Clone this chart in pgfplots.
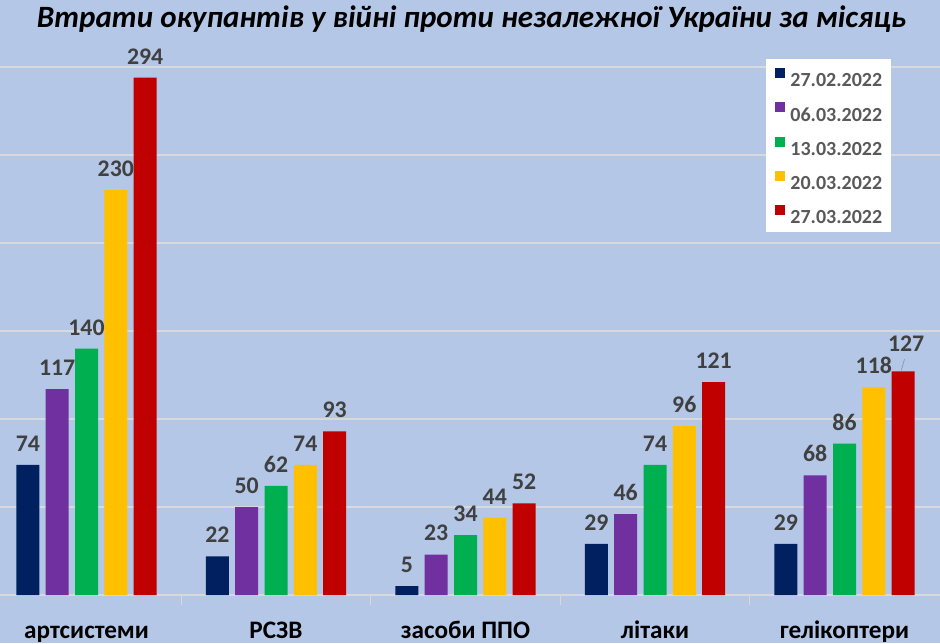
\documentclass[border=0pt]{standalone}
\usepackage{pgfplots}
\pgfplotsset{compat=1.18}
\usepackage{fontspec}
\usepackage{graphicx}
\setmainfont{Carlito}

\definecolor{bg}{HTML}{B4C7E7}
\definecolor{gridc}{HTML}{D9D9D9}
\definecolor{lblc}{HTML}{404040}
\definecolor{legc}{HTML}{595959}
\definecolor{cA}{HTML}{002060}
\definecolor{cB}{HTML}{7030A0}
\definecolor{cC}{HTML}{00B050}
\definecolor{cD}{HTML}{FFC000}
\definecolor{cE}{HTML}{C00000}

% losses by category: 0 artillery, 1 MLRS, 2 air defence, 3 aircraft, 4 helicopters
\pgfplotstableread{
x a b c d e
0 74 117 140 230 294
1 22 50 62 74 93
2 5 23 34 44 52
3 29 46 74 96 121
4 29 68 86 118 127
}\losses

\begin{document}
\begin{tikzpicture}
\fill[bg] (0,0) rectangle (470pt,321.5pt);
\begin{axis}[
  at={(0pt,24pt)}, anchor=south west,
  scale only axis, width=470pt, height=297pt,
  xmin=-0.4565, xmax=4.504, ymin=0, ymax=337.5,
  ybar=3.15pt, bar width=11.5pt,
  /pgf/number format/assume math mode=true,
  axis line style={draw=none},
  ytick={0,50,...,300}, yticklabels={}, ytick style={draw=none},
  ymajorgrids, major grid style={color=gridc, line width=1pt},
  xtick={0,...,4},
  xticklabels={артсистеми, РСЗВ, засоби ППО, літаки, гелікоптери},
  major x tick style={draw=none},
  minor xtick={0.5,1.5,2.5,3.5},
  minor x tick style={color=gridc, line width=0.6pt},
  minor tick length=5pt, tick align=outside, xtick pos=bottom,
  xticklabel style={font=\fontsize{12.6}{12.6}\selectfont\bfseries, text=black, anchor=base, yshift=-17.3pt},
  nodes near coords,
  every node near coord/.append style={font=\fontsize{11.9}{12}\selectfont\bfseries, text=lblc, inner sep=0pt, anchor=south, yshift=6.5pt},
  legend style={at={(0.8149,0.9024)}, anchor=north west, fill=white, draw=none,
    inner xsep=4.5pt, inner ysep=4.5pt, row sep=7.75pt, column sep=2.5pt,
    font=\fontsize{10}{10}\selectfont\bfseries, text=legc,
    nodes={text height=7pt, text depth=0pt, inner sep=0pt}},
  legend cell align=left,
  legend image code/.code={\fill[#1, draw=none] (0pt,0.8pt) rectangle (5pt,5.8pt);},
]
\addplot[fill=cA, draw=none] table[x=x, y=a] {\losses};
\addplot[fill=cB, draw=none] table[x=x, y=b] {\losses};
\addplot[fill=cC, draw=none] table[x=x, y=c] {\losses};
\addplot[fill=cD, draw=none] table[x=x, y=d] {\losses};
\addplot[fill=cE, draw=none,
  visualization depends on={\coordindex \as \idx},
  every node near coord/.append style={yshift={3.5*(\idx==4)}, xshift={1.5*(\idx==4)}}]
  table[x=x, y=e] {\losses};
\legend{27.02.2022, 06.03.2022, 13.03.2022, 20.03.2022, 27.03.2022}
% leader line for the lifted helicopter label
\draw[color=gray!80, line width=0.4pt] ([xshift=28.4pt, yshift=0.6pt]axis cs:4,127) -- ([xshift=30pt, yshift=6.2pt]axis cs:4,127);
\node[font=\fontsize{15.5}{15.5}\selectfont\bfseries\itshape, text=black, anchor=base] at ([yshift=-13.5pt]rel axis cs:0.5015,1) {\resizebox{434.5pt}{\height}{Втрати окупантів у війні проти незалежної України за місяць}};
\end{axis}
\pgfresetboundingbox
\useasboundingbox (0,0) rectangle (470pt,321.5pt);
\end{tikzpicture}
\end{document}
